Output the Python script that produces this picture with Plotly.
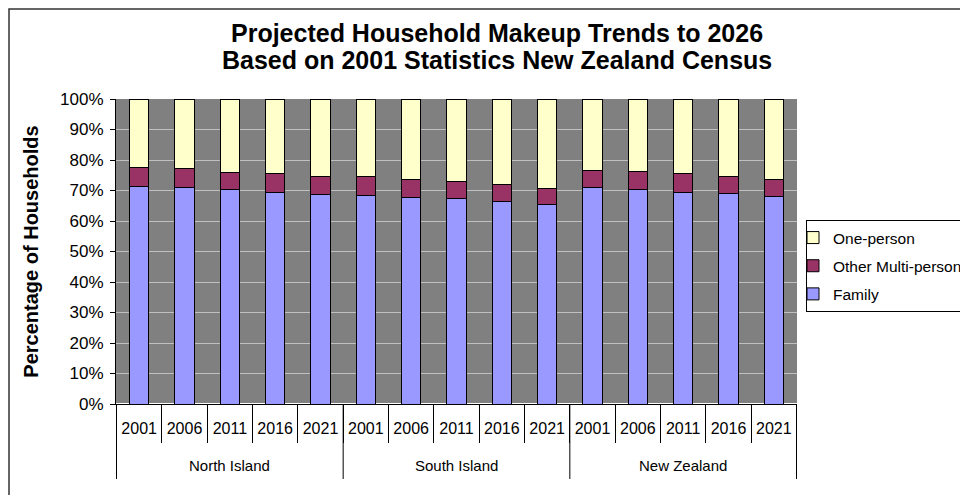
import plotly.graph_objects as go

regions = ["North Island", "South Island", "New Zealand"]
years = ["2001", "2006", "2011", "2016", "2021"]

family = [71.3, 70.9, 70.4, 69.5, 68.8,
          68.3, 67.8, 67.3, 66.3, 65.3,
          71.0, 70.4, 69.5, 68.9, 67.9]
other_multi = [6.4, 6.3, 5.6, 6.1, 5.8,
               6.2, 5.8, 5.8, 5.7, 5.3,
               5.7, 5.7, 6.1, 5.8, 5.7]
one_person = [22.3, 22.8, 24.0, 24.4, 25.4,
              25.5, 26.4, 26.9, 28.0, 29.4,
              23.3, 23.9, 24.4, 25.3, 26.4]

title_lines = ["Projected Household Makeup Trends to 2026",
               "Based on 2001 Statistics New Zealand Census"]

keys = [f"{r} {y}" for r in regions for y in years]
year_text = [y for _ in regions for y in years]

FONT = "Liberation Sans, Arial, sans-serif"
# page body has an 8px margin, so the figure is drawn at (8, 8)
W, H = 960, 487
ML, MT = 108, 91
PW, PH = 681, 305
MR = W - ML - PW
MB = H - MT - PH


def px_x(v):  # image px -> paper x
    return (v - 8 - ML) / PW


def px_y(v):  # image px -> paper y
    return (MT + PH - (v - 8)) / PH


fig = go.Figure()
series = [("Family", family, "#9999FF", 3),
          ("Other Multi-person", other_multi, "#993366", 2),
          ("One-person", one_person, "#FFFFCC", 1)]
for name, vals, col, rank in series:
    fig.add_trace(go.Bar(
        x=keys, y=vals, name=name, legendgroup=name, legendrank=rank,
        marker=dict(color=col, line=dict(color="black", width=1)),
    ))

shapes = [dict(type="rect", xref="paper", yref="paper",
               x0=px_x(9), x1=2.0, y0=-1.0, y1=px_y(9),
               line=dict(color="#333333", width=1.5), layer="below")]
n = len(years)
for g in range(len(regions) + 1):
    xb = g * n - 0.5
    shapes.append(dict(type="line", xref="x", yref="paper",
                       x0=xb, x1=xb, y0=0, y1=px_y(479),
                       line=dict(color="black", width=1)))

annotations = []
for g, r in enumerate(regions):
    annotations.append(dict(text=r, xref="x", yref="paper",
                            x=g * n + (n - 1) / 2, y=px_y(465),
                            xanchor="center", yanchor="middle", showarrow=False,
                            font=dict(family=FONT, size=15, color="black")))
for i, (line, yy) in enumerate(zip(title_lines, [33, 60])):
    annotations.append(dict(text=f"<b>{line}</b>", xref="paper", yref="paper",
                            x=px_x(497), y=px_y(yy), xanchor="center",
                            yanchor="middle", showarrow=False,
                            font=dict(family=FONT, size=25, color="black")))

fig.update_layout(
    width=W, height=H,
    margin=dict(l=ML, r=MR, t=MT, b=MB, pad=0, autoexpand=False),
    barmode="stack", bargap=0.58,
    paper_bgcolor="white", plot_bgcolor="#808080",
    font=dict(family=FONT, size=16, color="black"),
    showlegend=True,
    legend=dict(traceorder="grouped", tracegroupgap=5, indentation=-14,
                x=px_x(806), xanchor="left",
                y=px_y(220), yanchor="top",
                bordercolor="black", borderwidth=1, bgcolor="white",
                font=dict(family=FONT, size=15.5)),
    xaxis=dict(type="category", categoryorder="array", categoryarray=keys,
               tickvals=keys, ticktext=year_text,
               showline=True, linecolor="black",
               ticks="outside", tickson="boundaries", ticklen=38, tickcolor="black",
               ticklabelstandoff=10,
               showgrid=False, tickfont=dict(size=16)),
    yaxis=dict(range=[0, 100], dtick=10, ticksuffix="%", showline=True,
               linecolor="black", ticks="outside", ticklen=5, tickcolor="black",
               ticklabelstandoff=3,
               showgrid=True, gridcolor="#C0C0C0", gridwidth=1,
               title=dict(text="<b>Percentage of Households</b>", standoff=16,
                          font=dict(size=20)),
               tickfont=dict(size=17)),
    shapes=shapes,
    annotations=annotations,
)

fig.write_html("out.html")
